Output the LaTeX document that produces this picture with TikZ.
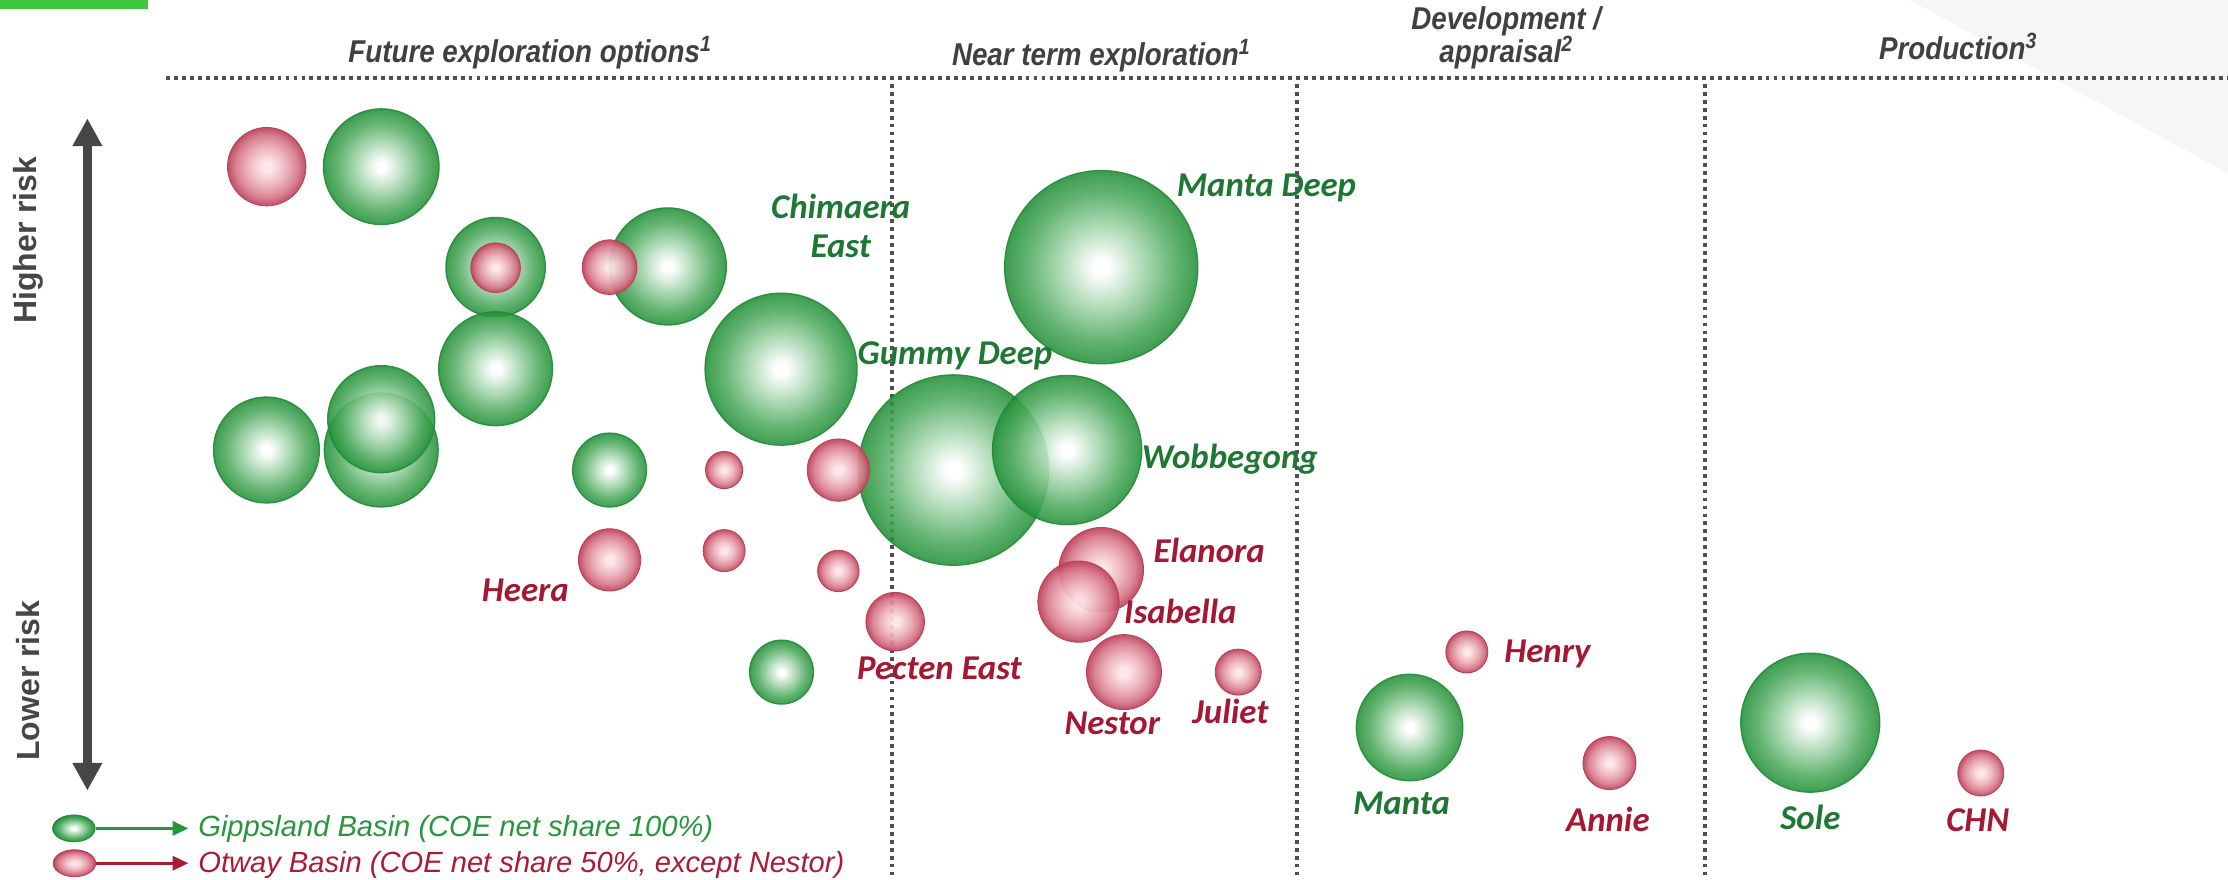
\documentclass[tikz,border=0pt]{standalone}
\usepackage{fontspec}
\setmainfont{Liberation Sans}
\newfontfamily\labfont{Carlito}
\newfontfamily\hdrfont[FakeStretch=0.88]{Liberation Sans}
\usetikzlibrary{arrows.meta,shapes.geometric}
\definecolor{topgreen}{RGB}{61,199,61}
\definecolor{hdr}{RGB}{64,64,64}
\definecolor{axisgrey}{RGB}{70,70,70}
\definecolor{dotgrey}{RGB}{80,80,80}
\definecolor{wedge}{RGB}{246,246,246}
\definecolor{labgreen}{RGB}{30,120,52}
\definecolor{labred}{RGB}{165,24,50}
\definecolor{leggreen}{RGB}{40,150,60}
\definecolor{legred}{RGB}{170,28,52}
\definecolor{gline}{RGB}{34,140,56}
\definecolor{gedge}{RGB}{46,152,66}
\definecolor{gmid2}{RGB}{80,170,96}
\definecolor{gmid}{RGB}{160,212,170}
\definecolor{rline}{RGB}{188,64,88}
\definecolor{redge}{RGB}{196,80,102}
\definecolor{rmid2}{RGB}{214,118,136}
\definecolor{rmid}{RGB}{236,176,186}
\definecolor{rcore}{RGB}{253,230,232}
\pgfdeclareradialshading{gball}{\pgfpoint{0bp}{0bp}}{color(0bp)=(white); color(2bp)=(white); color(11bp)=(gmid); color(19bp)=(gmid2); color(23.5bp)=(gedge); color(25bp)=(gline); color(50bp)=(gline)}
\pgfdeclareradialshading{rball}{\pgfpoint{0bp}{0bp}}{color(0bp)=(rcore); color(3bp)=(rcore); color(12bp)=(rmid); color(20bp)=(rmid2); color(23.5bp)=(redge); color(25bp)=(rline); color(50bp)=(rline)}
\begin{document}
\begin{tikzpicture}[x=1pt,y=-1pt,
  gb/.style={circle,inner sep=0pt,minimum size=#1,shade,shading=gball,draw=gline,line width=0.9pt,fill opacity=0.88,draw opacity=0.9},
  rb/.style={circle,inner sep=0pt,minimum size=#1,shade,shading=rball,draw=rline,line width=0.6pt,fill opacity=0.92},
  hdrtxt/.style={text=hdr,font=\hdrfont\fontsize{22.2}{25}\selectfont\bfseries\itshape,inner sep=0pt,align=center},
  glab/.style={text=labgreen,font=\labfont\fontsize{24.5}{27.3}\selectfont\bfseries\itshape,inner sep=0pt,anchor=base west},
  rlab/.style={text=labred,font=\labfont\fontsize{24.5}{27.3}\selectfont\bfseries\itshape,inner sep=0pt,anchor=base west},
  dotline/.style={draw=dotgrey,line width=2.7pt,dash pattern=on 2.7pt off 2.9pt},
  axtxt/.style={text=axisgrey,font=\fontsize{22.5}{25}\selectfont\bfseries,inner sep=0pt,rotate=90},
  legtxt/.style={font=\fontsize{20.5}{23}\selectfont\itshape,inner sep=0pt,anchor=base west}
]
\useasboundingbox (0,0) rectangle (1568,619);
\fill[white] (0,0) rectangle (1568,619);
% background wedge and top bar
\fill[wedge] (1344,0) -- (1568,0) -- (1568,122) -- cycle;
\fill[topgreen] (0,0) rectangle (104,6.6);

% dotted grid
\draw[dotline] (117,55.1) -- (1568,55.1);
\draw[dotline] (628,59) -- (628,619);
\draw[dotline] (912.5,59) -- (912.5,619);
\draw[dotline] (1200,59) -- (1200,619);

% headers
\node[hdrtxt,anchor=base] (h1) at (373,44) {Future exploration options\textsuperscript{1}};
\node[hdrtxt,anchor=base] (h2) at (775,46) {Near term exploration\textsuperscript{1}};
\node[hdrtxt,anchor=base] (h3) at (1060,21) {Development /};
\node[hdrtxt,anchor=base] (h3b) at (1060,44) {appraisal\textsuperscript{2}};
\node[hdrtxt,anchor=base] (h4) at (1378,42) {Production\textsuperscript{3}};

% risk axis
\coordinate (axtop) at (61.5,83.3);
\coordinate (axbot) at (61.5,556.4);
\draw[axisgrey,line width=6.5pt,{Triangle[length=19.5pt,width=19.7pt]}-{Triangle[length=19.5pt,width=19.7pt]}] (axtop) -- (axbot);
\node[axtxt] (hr) at (20,169) {Higher risk};
\node[axtxt] (lr) at (20,479) {Lower risk};

% green bubbles
\node[gb=81.4] (g1) at (268.3,117.3) {};
\node[gb=70] (g2) at (348.8,188) {};
\node[gb=82.4] (g3) at (470,187.5) {};
\node[gb=107] (g4) at (549.7,259.8) {};
\node[gb=80.2] (g5) at (348.8,259.5) {};
\node[gb=80.2] (g6) at (268.3,316.7) {};
\node[gb=75.4] (g7) at (268.3,295) {};
\node[gb=74.6] (g8) at (187.5,316.7) {};
\node[gb=52] (g9) at (429,330.8) {};
\node[gb=134] (g10) at (671,330.8) {};
\node[gb=105] (g11) at (751,316.7) {};
\node[gb=136] (g12) at (775,188) {};
\node[gb=45] (g13) at (550,473) {};
\node[gb=75] (g14) at (992,512) {};
\node[gb=97.8] (g15) at (1274,508.6) {};

% red bubbles
\node[rb=55.2] (r1) at (187.7,117.3) {};
\node[rb=35] (r2) at (348.8,188.4) {};
\node[rb=38.5] (r3) at (429,188) {};
\node[rb=26.2] (r4) at (509.6,330.8) {};
\node[rb=43.8] (r5) at (590,330.8) {};
\node[rb=43.8] (r6) at (429,394) {};
\node[rb=29.6] (r7) at (509.6,387.5) {};
\node[rb=29.2] (r8) at (590,401.8) {};
\node[rb=59.6] (r9) at (775,401) {};
\node[rb=57.2] (r10) at (759,423.4) {};
\node[rb=41.2] (r11) at (630,437.5) {};
\node[rb=52.8] (r12) at (791,473) {};
\node[rb=32.4] (r13) at (871.4,473) {};
\node[rb=29.6] (r14) at (1032.3,458.8) {};
\node[rb=37.4] (r15) at (1132.7,537) {};
\node[rb=32.4] (r16) at (1394,544) {};

% labels
\node[glab] (lmd) at (828,138) {Manta Deep};
\node[glab,anchor=base,align=center] (lce) at (591.7,181) {Chimaera\\East};
\node[glab] (lgd) at (603.4,256.2) {Gummy Deep};
\node[glab] (lwb) at (803.4,329.5) {Wobbegong};
\node[glab] (lma) at (952,573.5) {Manta};
\node[glab] (lso) at (1252.7,584) {Sole};
\node[rlab] (lel) at (811.6,396) {Elanora};
\node[rlab] (lis) at (791,438.5) {Isabella};
\node[rlab] (lhe) at (339,423) {Heera};
\node[rlab] (lpe) at (603,478.5) {Pecten East};
\node[rlab] (lne) at (749,517) {Nestor};
\node[rlab] (lju) at (839,509.5) {Juliet};
\node[rlab] (lhn) at (1058.5,466) {Henry};
\node[rlab] (lan) at (1102,585.3) {Annie};
\node[rlab] (lch) at (1369.5,585) {CHN};

% legend
\node[ellipse,inner sep=0pt,minimum width=30pt,minimum height=19pt,shade,shading=gball,draw=gline,line width=0.5pt] (legg) at (52,583) {};
\node[ellipse,inner sep=0pt,minimum width=30pt,minimum height=19pt,shade,shading=rball,draw=rline,line width=0.5pt] (legr) at (52.4,607.5) {};
\node[legtxt,text=leggreen] (legtg) at (139.4,589) {Gippsland Basin (COE net share 100\%)};
\node[legtxt,text=legred] (legtr) at (139.4,614) {Otway Basin (COE net share 50\%, except Nestor)};
\coordinate (legag) at (132.5,583);
\coordinate (legar) at (132.5,607.5);
\draw[leggreen,line width=1.8pt,-{Triangle[length=11pt,width=10pt]}] (legg.east) -- (legag);
\draw[legred,line width=1.8pt,-{Triangle[length=11pt,width=10pt]}] (legr.east) -- (legar);
\end{tikzpicture}
\end{document}
